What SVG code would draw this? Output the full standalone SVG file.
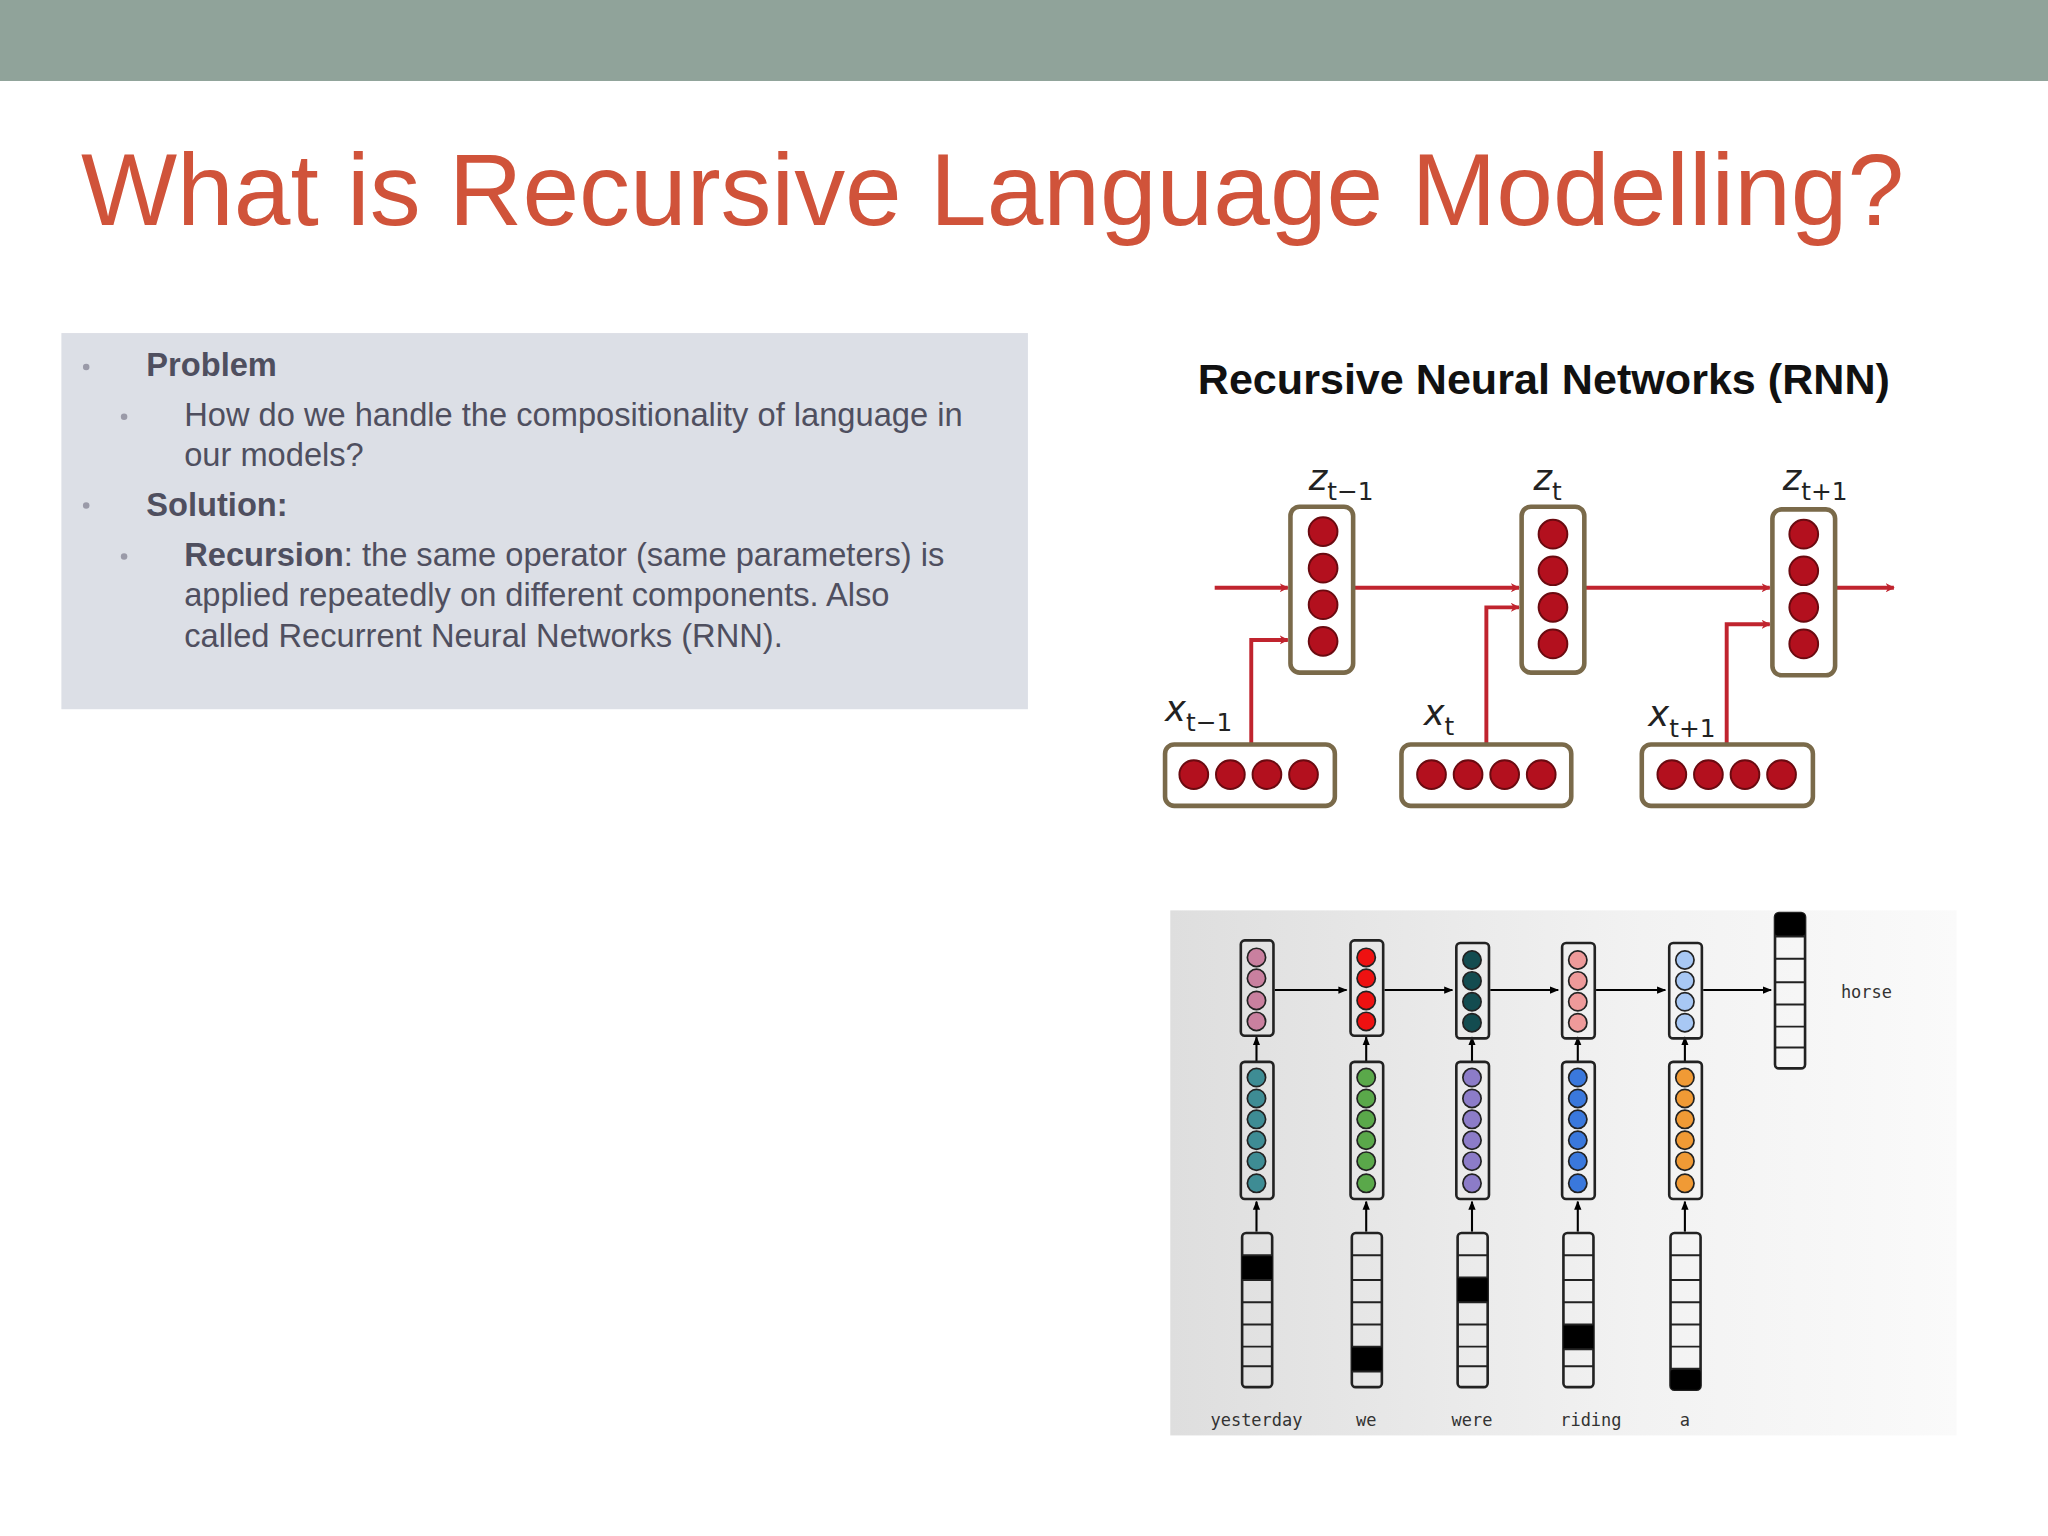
<svg xmlns="http://www.w3.org/2000/svg" width="2048" height="1536" viewBox="0 0 2048 1536">
<defs>
<linearGradient id="pg" x1="0" y1="0" x2="1" y2="0"><stop offset="0" stop-color="#dedede"/><stop offset="0.6" stop-color="#f2f2f2"/><stop offset="1" stop-color="#fafafa"/></linearGradient>
<marker id="ra" viewBox="0 0 10 10" refX="9" refY="5" markerWidth="7" markerHeight="7" orient="auto" markerUnits="userSpaceOnUse"><path d="M0,0 L10,5 L0,10 L3,5 z" fill="#c0242e"/></marker>
<marker id="ka" viewBox="0 0 10 10" refX="9" refY="5" markerWidth="7" markerHeight="7" orient="auto" markerUnits="userSpaceOnUse"><path d="M0,1 L10,5 L0,9 z" fill="#000"/></marker>
</defs>
<style>
.t{font-family:"Liberation Sans",Arial,sans-serif;fill:#4f4f5f;font-size:25px}
.b{font-weight:bold}
.zb{fill:#fff;stroke:#7a6a4a;stroke-width:3.5}
.rc{fill:#b3101e;stroke:#6a0a10;stroke-width:1.5}
.ra{stroke:#c0242e;stroke-width:3;fill:none;marker-end:url(#ra)}
.lb{font-family:"DejaVu Sans",sans-serif;font-style:italic;font-size:27px;fill:#222}
.sb{font-size:19px;font-style:normal}
.cb{fill:none;stroke:#222;stroke-width:2}
.c{stroke:#222;stroke-width:1.3}
.ka{stroke:#000;stroke-width:1.6;marker-end:url(#ka)}
.w{font-family:"DejaVu Sans Mono",monospace;font-size:13px;fill:#333}
</style>
<g transform="scale(1.30612)">
<rect x="0" y="0" width="1568" height="62" fill="#90a39a"/>
<text x="62" y="172" font-family="Liberation Sans,Arial,sans-serif" font-size="78" fill="#d0533a">What is Recursive Language Modelling?</text>
<g id="textbox">
<rect x="47" y="255" width="740" height="288" fill="#dcdfe6"/>
<circle cx="66" cy="281" r="2.5" fill="#9a9aa8"/><circle cx="95" cy="319" r="2.5" fill="#9a9aa8"/>
<circle cx="66" cy="387" r="2.5" fill="#9a9aa8"/><circle cx="95" cy="426" r="2.5" fill="#9a9aa8"/>
<text class="t b" x="112" y="288">Problem</text>
<text class="t" x="141" y="326">How do we handle the compositionality of language in</text>
<text class="t" x="141" y="357">our models?</text>
<text class="t b" x="112" y="395">Solution:</text>
<text class="t" x="141" y="433"><tspan class="b">Recursion</tspan>: the same operator (same parameters) is</text>
<text class="t" x="141" y="464">applied repeatedly on different components. Also</text>
<text class="t" x="141" y="495">called Recurrent Neural Networks (RNN).</text>
</g>
<text x="1182" y="302" text-anchor="middle" font-family="Liberation Sans,Arial,sans-serif" font-weight="bold" font-size="33" fill="#111">Recursive Neural Networks (RNN)</text>
<g id="connectors">
<line class="ra" x1="930" y1="450" x2="986" y2="450"/>
<line class="ra" x1="1036" y1="450" x2="1163" y2="450"/>
<line class="ra" x1="1213" y1="450" x2="1355" y2="450"/>
<line class="ra" x1="1405" y1="450" x2="1450" y2="450"/>
<polyline class="ra" points="958,570 958,490 986,490"/>
<polyline class="ra" points="1138,570 1138,465 1163,465"/>
<polyline class="ra" points="1322,570 1322,478 1355,478"/>
</g>
<g id="z1"><rect class="zb" x="988" y="388" width="48" height="127" rx="7"/><circle class="rc" cx="1013" cy="407" r="11"/><circle class="rc" cx="1013" cy="435" r="11"/><circle class="rc" cx="1013" cy="463" r="11"/><circle class="rc" cx="1013" cy="491" r="11"/></g>
<g id="z2"><rect class="zb" x="1165" y="388" width="48" height="127" rx="7"/><circle class="rc" cx="1189" cy="409" r="11"/><circle class="rc" cx="1189" cy="437" r="11"/><circle class="rc" cx="1189" cy="465" r="11"/><circle class="rc" cx="1189" cy="493" r="11"/></g>
<g id="z3"><rect class="zb" x="1357" y="390" width="48" height="127" rx="7"/><circle class="rc" cx="1381" cy="409" r="11"/><circle class="rc" cx="1381" cy="437" r="11"/><circle class="rc" cx="1381" cy="465" r="11"/><circle class="rc" cx="1381" cy="493" r="11"/></g>
<g id="x1"><rect class="zb" x="892" y="570" width="130" height="47" rx="7"/><circle class="rc" cx="914" cy="593" r="11"/><circle class="rc" cx="942" cy="593" r="11"/><circle class="rc" cx="970" cy="593" r="11"/><circle class="rc" cx="998" cy="593" r="11"/></g>
<g id="x2"><rect class="zb" x="1073" y="570" width="130" height="47" rx="7"/><circle class="rc" cx="1096" cy="593" r="11"/><circle class="rc" cx="1124" cy="593" r="11"/><circle class="rc" cx="1152" cy="593" r="11"/><circle class="rc" cx="1180" cy="593" r="11"/></g>
<g id="x3"><rect class="zb" x="1257" y="570" width="131" height="47" rx="7"/><circle class="rc" cx="1280" cy="593" r="11"/><circle class="rc" cx="1308" cy="593" r="11"/><circle class="rc" cx="1336" cy="593" r="11"/><circle class="rc" cx="1364" cy="593" r="11"/></g>
<text class="lb" x="1002" y="375">z<tspan class="sb" dy="8">t−1</tspan></text>
<text class="lb" x="1174" y="375">z<tspan class="sb" dy="8">t</tspan></text>
<text class="lb" x="1365" y="375">z<tspan class="sb" dy="8">t+1</tspan></text>
<text class="lb" x="892" y="552">x<tspan class="sb" dy="8">t−1</tspan></text>
<text class="lb" x="1090" y="555">x<tspan class="sb" dy="8">t</tspan></text>
<text class="lb" x="1262" y="556">x<tspan class="sb" dy="8">t+1</tspan></text>
<g id="panel2">
<rect x="896" y="697" width="602" height="402" fill="url(#pg)"/>
<g id="lm-arrows">
<line class="ka" x1="976" y1="758" x2="1031" y2="758"/>
<line class="ka" x1="1060" y1="758" x2="1112" y2="758"/>
<line class="ka" x1="1141" y1="758" x2="1193" y2="758"/>
<line class="ka" x1="1222" y1="758" x2="1275" y2="758"/>
<line class="ka" x1="1304" y1="758" x2="1356" y2="758"/>
<line class="ka" x1="962" y1="813" x2="962" y2="794"/><line class="ka" x1="962" y1="943" x2="962" y2="920"/>
<line class="ka" x1="1046" y1="813" x2="1046" y2="794"/><line class="ka" x1="1046" y1="943" x2="1046" y2="920"/>
<line class="ka" x1="1127" y1="813" x2="1127" y2="794"/><line class="ka" x1="1127" y1="943" x2="1127" y2="920"/>
<line class="ka" x1="1208" y1="813" x2="1208" y2="794"/><line class="ka" x1="1208" y1="943" x2="1208" y2="920"/>
<line class="ka" x1="1290" y1="813" x2="1290" y2="794"/><line class="ka" x1="1290" y1="943" x2="1290" y2="920"/>
</g>
<g id="col1"><rect class="cb" x="950" y="720" width="25" height="73" rx="3"/>
<g fill="#c9809f" class="c"><circle cx="962" cy="733" r="7"/><circle cx="962" cy="749" r="7"/><circle cx="962" cy="766" r="7"/><circle cx="962" cy="782" r="7"/></g>
<rect class="cb" x="950" y="813" width="25" height="105" rx="3"/>
<g fill="#3e8c94" class="c"><circle cx="962" cy="825" r="7"/><circle cx="962" cy="841" r="7"/><circle cx="962" cy="857" r="7"/><circle cx="962" cy="873" r="7"/><circle cx="962" cy="889" r="7"/><circle cx="962" cy="906" r="7"/></g>
<rect class="cb" x="951" y="944" width="23" height="118" rx="3"/><rect x="951" y="961" width="23" height="19" fill="#000"/>
<path d="M951,961H974M951,980H974M951,997H974M951,1014H974M951,1031H974M951,1046H974" stroke="#222" stroke-width="1.5"/></g>
<g id="col2"><rect class="cb" x="1034" y="720" width="25" height="73" rx="3"/>
<g fill="#ee1111" class="c"><circle cx="1046" cy="733" r="7"/><circle cx="1046" cy="749" r="7"/><circle cx="1046" cy="766" r="7"/><circle cx="1046" cy="782" r="7"/></g>
<rect class="cb" x="1034" y="813" width="25" height="105" rx="3"/>
<g fill="#5aa84a" class="c"><circle cx="1046" cy="825" r="7"/><circle cx="1046" cy="841" r="7"/><circle cx="1046" cy="857" r="7"/><circle cx="1046" cy="873" r="7"/><circle cx="1046" cy="889" r="7"/><circle cx="1046" cy="906" r="7"/></g>
<rect class="cb" x="1035" y="944" width="23" height="118" rx="3"/><rect x="1035" y="1031" width="23" height="19" fill="#000"/>
<path d="M1035,961H1058M1035,980H1058M1035,997H1058M1035,1014H1058M1035,1031H1058M1035,1050H1058" stroke="#222" stroke-width="1.5"/></g>
<g id="col3"><rect class="cb" x="1115" y="722" width="25" height="73" rx="3"/>
<g fill="#134c50" class="c"><circle cx="1127" cy="735" r="7"/><circle cx="1127" cy="751" r="7"/><circle cx="1127" cy="767" r="7"/><circle cx="1127" cy="783" r="7"/></g>
<rect class="cb" x="1115" y="813" width="25" height="105" rx="3"/>
<g fill="#8c7cc8" class="c"><circle cx="1127" cy="825" r="7"/><circle cx="1127" cy="841" r="7"/><circle cx="1127" cy="857" r="7"/><circle cx="1127" cy="873" r="7"/><circle cx="1127" cy="889" r="7"/><circle cx="1127" cy="906" r="7"/></g>
<rect class="cb" x="1116" y="944" width="23" height="118" rx="3"/><rect x="1116" y="978" width="23" height="19" fill="#000"/>
<path d="M1116,961H1139M1116,978H1139M1116,997H1139M1116,1014H1139M1116,1031H1139M1116,1046H1139" stroke="#222" stroke-width="1.5"/></g>
<g id="col4"><rect class="cb" x="1196" y="722" width="25" height="73" rx="3"/>
<g fill="#ee9a9a" class="c"><circle cx="1208" cy="735" r="7"/><circle cx="1208" cy="751" r="7"/><circle cx="1208" cy="767" r="7"/><circle cx="1208" cy="783" r="7"/></g>
<rect class="cb" x="1196" y="813" width="25" height="105" rx="3"/>
<g fill="#3a78dc" class="c"><circle cx="1208" cy="825" r="7"/><circle cx="1208" cy="841" r="7"/><circle cx="1208" cy="857" r="7"/><circle cx="1208" cy="873" r="7"/><circle cx="1208" cy="889" r="7"/><circle cx="1208" cy="906" r="7"/></g>
<rect class="cb" x="1197" y="944" width="23" height="118" rx="3"/><rect x="1197" y="1014" width="23" height="19" fill="#000"/>
<path d="M1197,961H1220M1197,980H1220M1197,997H1220M1197,1014H1220M1197,1033H1220M1197,1046H1220" stroke="#222" stroke-width="1.5"/></g>
<g id="col5"><rect class="cb" x="1278" y="722" width="25" height="73" rx="3"/>
<g fill="#a8c8f4" class="c"><circle cx="1290" cy="735" r="7"/><circle cx="1290" cy="751" r="7"/><circle cx="1290" cy="767" r="7"/><circle cx="1290" cy="783" r="7"/></g>
<rect class="cb" x="1278" y="813" width="25" height="105" rx="3"/>
<g fill="#f09a35" class="c"><circle cx="1290" cy="825" r="7"/><circle cx="1290" cy="841" r="7"/><circle cx="1290" cy="857" r="7"/><circle cx="1290" cy="873" r="7"/><circle cx="1290" cy="889" r="7"/><circle cx="1290" cy="906" r="7"/></g>
<rect class="cb" x="1279" y="944" width="23" height="120" rx="3"/><rect x="1279" y="1048" width="23" height="16" rx="3" fill="#000"/>
<path d="M1279,961H1302M1279,980H1302M1279,997H1302M1279,1014H1302M1279,1031H1302M1279,1048H1302" stroke="#222" stroke-width="1.5"/></g>
<g id="out"><rect class="cb" x="1359" y="699" width="23" height="119" rx="3"/><rect x="1359" y="699" width="23" height="18" rx="3" fill="#000"/>
<path d="M1359,717H1382M1359,734H1382M1359,752H1382M1359,769H1382M1359,786H1382M1359,802H1382" stroke="#222" stroke-width="1.5"/></g>
<text class="w" x="1429" y="764" text-anchor="middle">horse</text>
<text class="w" x="962" y="1092" text-anchor="middle">yesterday</text>
<text class="w" x="1046" y="1092" text-anchor="middle">we</text>
<text class="w" x="1127" y="1092" text-anchor="middle">were</text>
<text class="w" x="1218" y="1092" text-anchor="middle">riding</text>
<text class="w" x="1290" y="1092" text-anchor="middle">a</text>
</g>
</g>
</svg>
